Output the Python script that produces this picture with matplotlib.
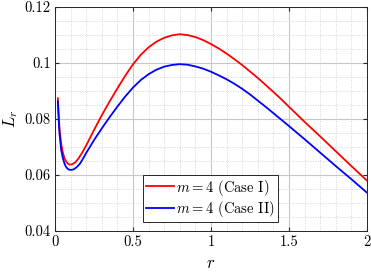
import numpy as np
import matplotlib
matplotlib.use("Agg")
import matplotlib.pyplot as plt
from matplotlib.ticker import MultipleLocator

# values
r_case1 = [0.019, 0.025, 0.03, 0.04, 0.05, 0.06, 0.07, 0.08, 0.094, 0.11, 0.13,
           0.15, 0.175, 0.2, 0.25, 0.3, 0.35, 0.4, 0.45, 0.5, 0.55, 0.6, 0.65,
           0.7, 0.75, 0.8, 0.85, 0.9, 0.95, 1.0, 1.05, 1.1, 1.15, 1.2, 1.25, 1.3,
           1.35, 1.4, 1.45, 1.5, 1.6, 1.7, 1.8, 1.9, 2.0]
L_case1 = [0.0874, 0.0805, 0.0762, 0.0712, 0.0682, 0.0662, 0.0650, 0.0642, 0.0637,
           0.0638, 0.0645, 0.0658, 0.0680, 0.0705, 0.0760, 0.0813, 0.0862, 0.0909,
           0.0954, 0.0995, 0.1029, 0.1056, 0.1076, 0.1090, 0.1099, 0.1103, 0.1100,
           0.1093, 0.1082, 0.1068, 0.1052, 0.1034, 0.1014, 0.0993, 0.0970, 0.0947,
           0.0922, 0.0897, 0.0871, 0.0844, 0.0790, 0.0738, 0.0685, 0.0632, 0.0580]

r_case2 = [0.019, 0.025, 0.03, 0.04, 0.05, 0.06, 0.07, 0.08, 0.09, 0.105, 0.12,
           0.14, 0.16, 0.18, 0.2, 0.25, 0.3, 0.35, 0.4, 0.45, 0.5, 0.55, 0.6,
           0.65, 0.7, 0.75, 0.8, 0.85, 0.9, 0.95, 1.0, 1.05, 1.1, 1.15, 1.2, 1.25,
           1.3, 1.35, 1.4, 1.45, 1.5, 1.6, 1.7, 1.8, 1.9, 2.0]
L_case2 = [0.0862, 0.0790, 0.0745, 0.0690, 0.0662, 0.0643, 0.0630, 0.0623, 0.0619,
           0.0618, 0.0620, 0.0628, 0.0640, 0.0658, 0.0678, 0.0724, 0.0766, 0.0806,
           0.0844, 0.0880, 0.0912, 0.0939, 0.0960, 0.0976, 0.0987, 0.0993, 0.0996,
           0.0994, 0.0988, 0.0980, 0.0969, 0.0956, 0.0942, 0.0926, 0.0908, 0.0888,
           0.0866, 0.0844, 0.0821, 0.0798, 0.0775, 0.0728, 0.0680, 0.0632, 0.0585,
           0.0537]

x_ticks = [0, 0.5, 1, 1.5, 2]
x_labels = ["0", "0.5", "1", "1.5", "2"]
y_ticks = [0.04, 0.06, 0.08, 0.1, 0.12]
y_labels = ["0.04", "0.06", "0.08", "0.1", "0.12"]

plt.rcParams["font.family"] = "serif"
plt.rcParams["font.serif"] = ["cmr10", "DejaVu Serif"]
plt.rcParams["mathtext.fontset"] = "cm"
plt.rcParams["axes.formatter.use_mathtext"] = True

fig = plt.figure(figsize=(3.71, 2.72), dpi=100)
ax = fig.add_axes([0.148, 0.151, 0.841, 0.823])

ax.plot(r_case1, L_case1, color="#ff0000", lw=1.3, label=r"$m=4$ (Case I)")
ax.plot(r_case2, L_case2, color="#0000ff", lw=1.3, label=r"$m=4$ (Case II)")

ax.set_xlim(0, 2)
ax.set_ylim(0.04, 0.12)
ax.set_xticks(x_ticks)
ax.set_xticklabels(x_labels)
ax.set_yticks(y_ticks)
ax.set_yticklabels(y_labels)
ax.xaxis.set_minor_locator(MultipleLocator(0.1))
ax.yaxis.set_minor_locator(MultipleLocator(0.005))

ax.grid(True, which="major", color="#c8c8c8", lw=0.8, ls="-")
ax.grid(True, which="minor", color="#d2d2d2", lw=0.7, ls=(0, (1, 1.5)))
ax.set_axisbelow(True)

ax.tick_params(which="both", direction="in", top=True, right=True,
               color="#262626", labelsize=10.5, pad=3)
ax.tick_params(which="major", length=3)
ax.tick_params(which="minor", length=0)
for s in ax.spines.values():
    s.set_color("#262626")
    s.set_linewidth(0.7)

ax.set_xlabel(r"$r$", fontsize=12, labelpad=5)
ax.set_ylabel(r"$L_r$", fontsize=12, labelpad=3)

leg = ax.legend(loc="lower left", bbox_to_anchor=(0.282, 0.04), fontsize=10.5,
                fancybox=False, framealpha=1, edgecolor="#262626",
                handlelength=1.9, handletextpad=0.2, borderpad=0.2,
                labelspacing=0.1, borderaxespad=0)
leg.get_frame().set_linewidth(0.7)

fig.savefig("out.png", dpi=100)
